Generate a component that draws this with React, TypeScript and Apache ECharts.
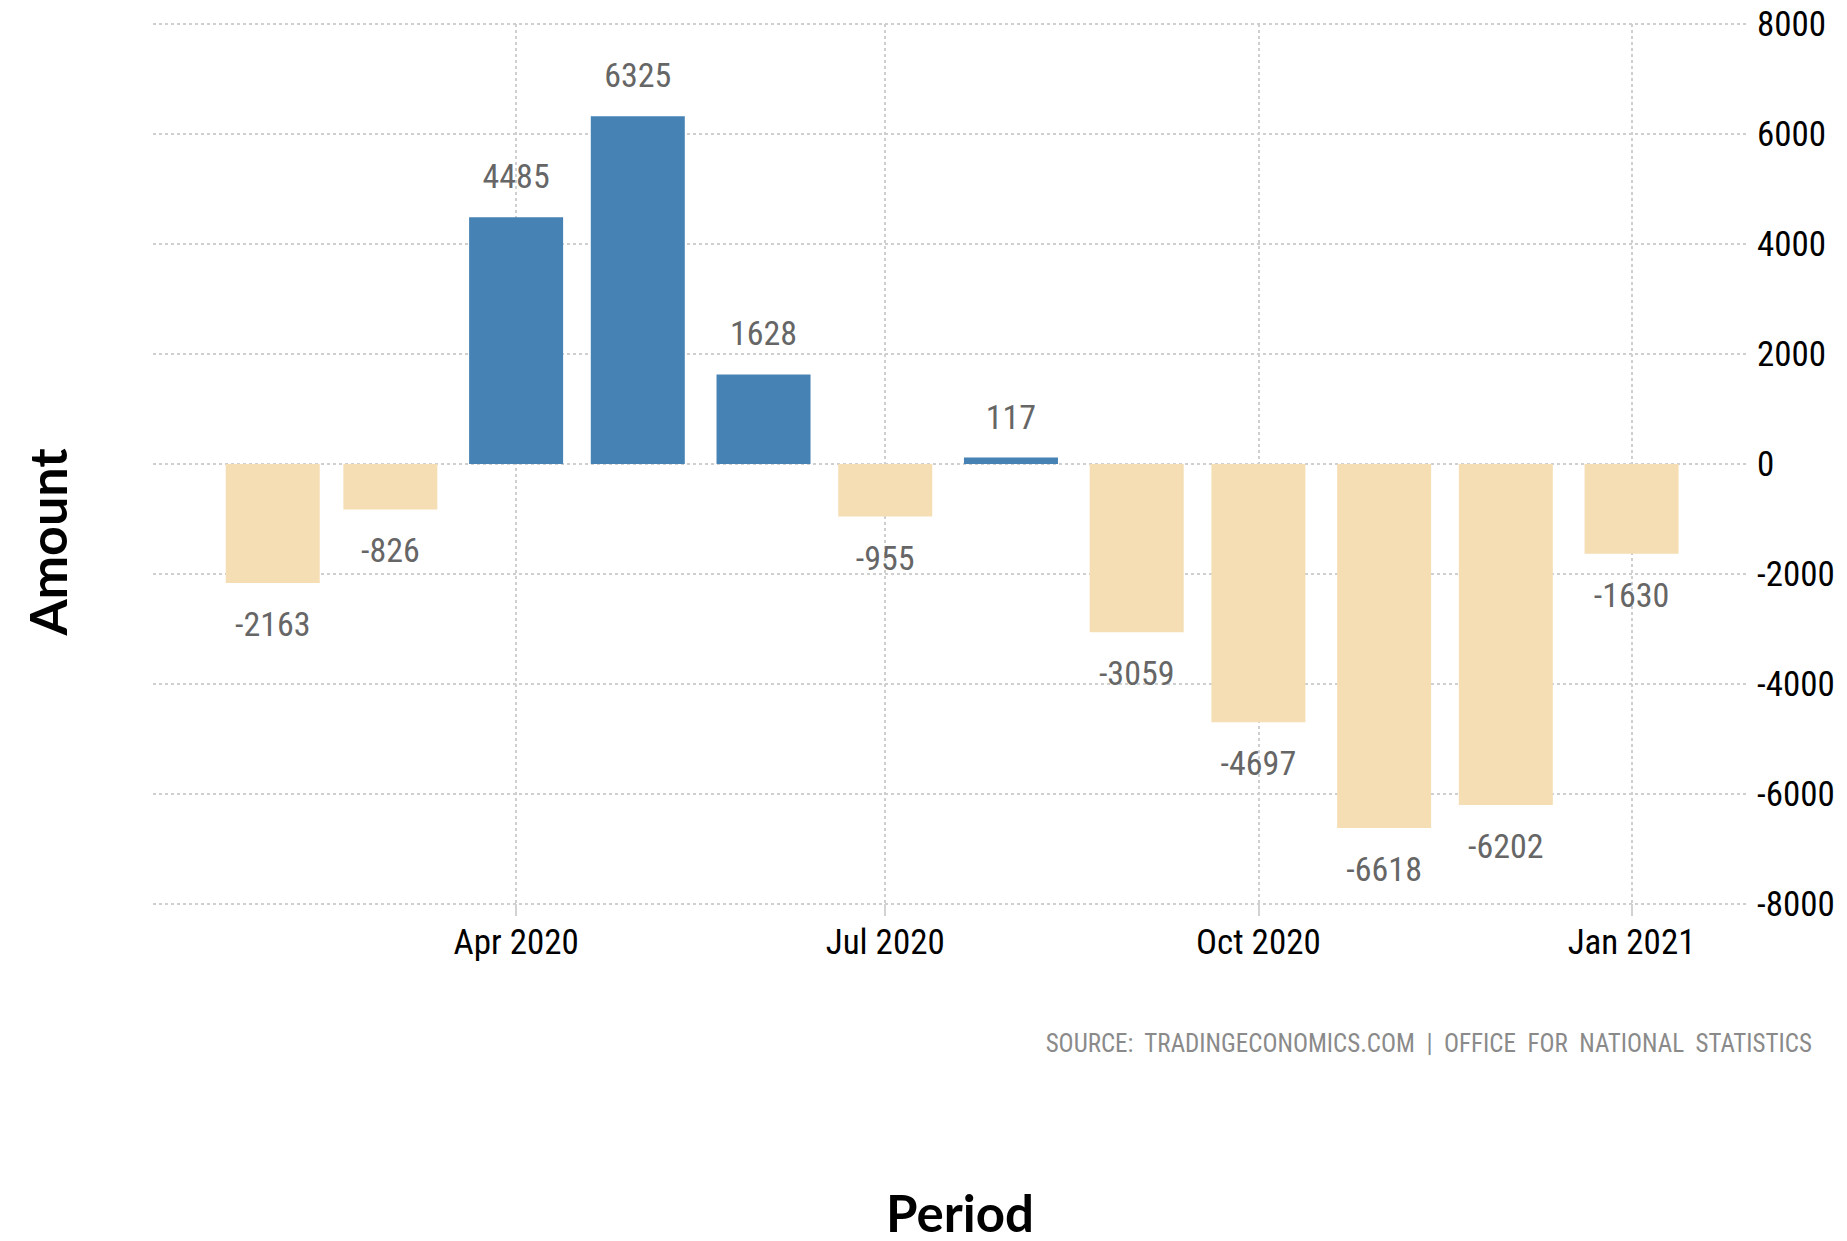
import React, { useEffect, useRef } from "react";
import * as echarts from "echarts";

// Monthly periods (year, month) and values
const periods: [number, number][] = [
  [2020, 2], [2020, 3], [2020, 4], [2020, 5], [2020, 6], [2020, 7],
  [2020, 8], [2020, 9], [2020, 10], [2020, 11], [2020, 12], [2021, 1],
];
const values: number[] = [-2163, -826, 4485, 6325, 1628, -955, 117, -3059, -4697, -6618, -6202, -1630];

// Quarterly tick labels shown on the date axis
const tickPeriods: [number, number][] = [[2020, 4], [2020, 7], [2020, 10], [2021, 1]];
const monthNames = ["Jan", "Feb", "Mar", "Apr", "May", "Jun", "Jul", "Aug", "Sep", "Oct", "Nov", "Dec"];

const yTicks = { min: -8000, max: 8000, interval: 2000 };

const POS_COLOR = "#4682B4";
const NEG_COLOR = "#F5DEB3";
const NARROW = "'Liberation Sans Narrow', 'Roboto Condensed', 'DejaVu Sans Condensed', 'Liberation Sans', sans-serif";
const TITLE_FONT = "Lato, 'Open Sans', 'Noto Sans', sans-serif";

const ts = (p: [number, number]) => new Date(p[0], p[1] - 1, 1).getTime();

export default function App() {
  const ref = useRef<HTMLDivElement>(null);

  useEffect(() => {
    if (!ref.current) return;
    const chart = echarts.init(ref.current, undefined, { renderer: "svg" });
    const tickValues = tickPeriods.map(ts);
    const data = periods.map((p, i) => {
      const v = values[i];
      return {
        value: [ts(p), v],
        itemStyle: { color: v >= 0 ? POS_COLOR : NEG_COLOR },
        label: { position: v >= 0 ? "top" : "bottom" },
      };
    });
    const gridLine = { color: "#cfcfcf", width: 2, type: [3, 3] as number[] };
    chart.setOption({
      animation: false,
      backgroundColor: "#ffffff",
      grid: { left: 153, top: 24, right: 99, bottom: 337, containLabel: false },
      xAxis: {
        type: "value",
        min: new Date(2020, 0, 2, 11, 30).getTime(),
        max: new Date(2021, 0, 29, 17, 0).getTime(),
        axisLine: { show: false, onZero: false },
        axisTick: {
          show: true,
          length: 12,
          customValues: tickValues,
          lineStyle: { color: "#d2d2d2", width: 2 },
        },
        splitLine: { show: true, lineStyle: gridLine },
        axisLabel: {
          customValues: tickValues,
          color: "#000",
          fontFamily: NARROW,
          fontSize: 35,
          margin: 21,
          formatter: (val: number) => {
            const d = new Date(val);
            return `${monthNames[d.getMonth()]} ${d.getFullYear()}`;
          },
        },
      },
      yAxis: {
        type: "value",
        position: "right",
        min: yTicks.min,
        max: yTicks.max,
        interval: yTicks.interval,
        axisLine: { show: false },
        axisTick: { show: false },
        splitLine: { show: true, lineStyle: gridLine },
        axisLabel: {
          color: "#000",
          fontFamily: NARROW,
          fontSize: 35,
          margin: 9,
          formatter: (v: number) => String(v),
        },
      },
      series: [
        {
          type: "bar",
          data,
          barWidth: 94,
          label: {
            show: true,
            distance: 24,
            color: "#666",
            fontFamily: NARROW,
            fontSize: 34,
            formatter: (p: any) => String(p.value[1]),
          },
        },
      ],
      graphic: [
        {
          type: "text",
          x: 47,
          y: 542,
          rotation: Math.PI / 2,
          style: {
            text: "Amount",
            fill: "#000",
            font: `bold 52px ${TITLE_FONT}`,
            textAlign: "center",
            textVerticalAlign: "middle",
          },
        },
        {
          type: "text",
          x: 960,
          y: 1212,
          style: {
            text: "Period",
            fill: "#000",
            font: `bold 51px ${TITLE_FONT}`,
            textAlign: "center",
            textVerticalAlign: "middle",
          },
        },
        {
          type: "text",
          x: 1812,
          y: 1043,
          style: {
            text: "SOURCE:  TRADINGECONOMICS.COM  |  OFFICE  FOR  NATIONAL  STATISTICS",
            fill: "#8a8a8a",
            font: `25px ${NARROW}`,
            textAlign: "right",
            textVerticalAlign: "middle",
          },
        },
      ],
    });
    return () => chart.dispose();
  }, []);

  return (
    <div
      ref={ref}
      style={{ position: "absolute", left: 0, top: 0, width: 1847, height: 1241, background: "#fff" }}
    />
  );
}
